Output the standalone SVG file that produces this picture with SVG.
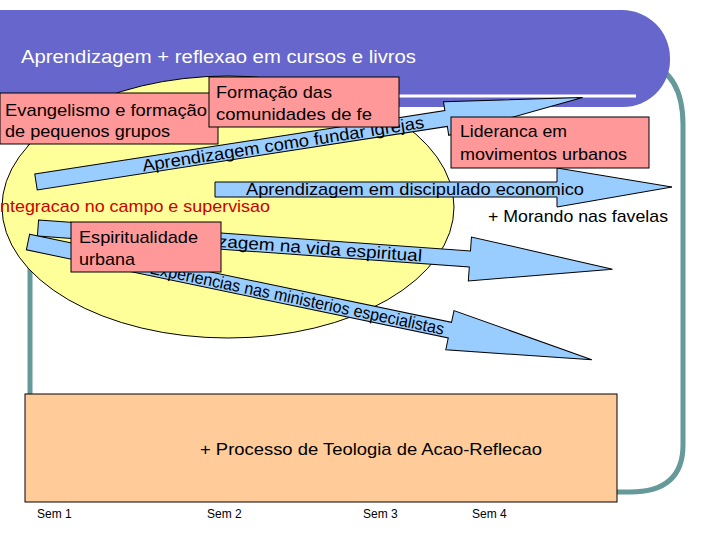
<svg xmlns="http://www.w3.org/2000/svg" width="720" height="540" viewBox="0 0 720 540">
<style>
text{font-family:"Liberation Sans",Arial,sans-serif;}
.box{fill:#ff9999;stroke:#000;stroke-width:1}
.arr{fill:#99ccff;stroke:#000;stroke-width:1}
.bt{font-size:17px;fill:#000}
.at{font-size:17px;fill:#000}
.sem{font-size:12px;fill:#000}
</style>
<rect width="720" height="540" fill="#fff"/>
<g id="frame">
<path d="M30,110 V400 M645,62 Q683,72 683,125 V445 Q683,492 630,492 H610" fill="none" stroke="#669999" stroke-width="5"/>
<path d="M0,10 H622 A48,48 0 0 1 670,58 V60 A47,47 0 0 1 623,107 H0 Z" fill="#6666cc"/>
<line x1="200" y1="96" x2="636" y2="96" stroke="#fff" stroke-width="3"/>
<text x="21" y="63" font-size="18" fill="#fff" textLength="395" lengthAdjust="spacingAndGlyphs">Aprendizagem + reflexao em cursos e livros</text>
</g>
<g id="ellipse"><ellipse cx="228" cy="207" rx="226" ry="131" fill="#ffff99" stroke="#000" stroke-width="1"/></g>
<g id="connectors">
<g transform="translate(36,182) rotate(-8.8)">
<path class="arr" d="M0,-8 H415 V-17 L553,0 L415,17 V8 H0 Z"/>
<text class="at" x="250" y="6" text-anchor="middle" textLength="285" lengthAdjust="spacingAndGlyphs">Aprendizagem como fundar igrejas</text>
</g>
<g>
<path class="arr" d="M215,182 H557 V168 L672,187 L557,207 V197 H215 Z"/>
<text class="at" x="415" y="195" text-anchor="middle" textLength="338" lengthAdjust="spacingAndGlyphs">Aprendizagem em discipulado economico</text>
</g>
<g transform="translate(38,228) rotate(4.1)">
<path class="arr" d="M0,-8 H433 V-22 L576,0 L433,22 V8 H0 Z"/>
<text class="at" x="250" y="6" text-anchor="middle" textLength="270" lengthAdjust="spacingAndGlyphs">Aprendizagem na vida espiritual</text>
</g>
<g transform="translate(28,242) rotate(11.8)">
<path class="arr" d="M0,-8 H431 V-20 L576,0 L431,20 V8 H0 Z"/>
<text class="at" x="275" y="6" text-anchor="middle" textLength="300" lengthAdjust="spacingAndGlyphs">Experiencias nas ministerios especialistas</text>
</g>
</g>
<g id="n-evang"><rect class="box" x="0" y="93" width="218" height="51"/>
<text class="bt" x="5" y="116" textLength="202" lengthAdjust="spacingAndGlyphs">Evangelismo e formação</text>
<text class="bt" x="5" y="137" textLength="165" lengthAdjust="spacingAndGlyphs">de pequenos grupos</text></g>
<g id="n-form"><rect class="box" x="209" y="77" width="190" height="50"/>
<text class="bt" x="216" y="98" textLength="116" lengthAdjust="spacingAndGlyphs">Formação das</text>
<text class="bt" x="216" y="120" textLength="156" lengthAdjust="spacingAndGlyphs">comunidades de fe</text></g>
<g id="n-lid"><rect class="box" x="451" y="117" width="198" height="51"/>
<text class="bt" x="460" y="137" textLength="107" lengthAdjust="spacingAndGlyphs">Lideranca em</text>
<text class="bt" x="460" y="160" textLength="167" lengthAdjust="spacingAndGlyphs">movimentos urbanos</text></g>
<g id="n-esp"><rect class="box" x="71" y="222" width="150" height="50"/>
<text class="bt" x="79" y="243" textLength="119" lengthAdjust="spacingAndGlyphs">Espiritualidade</text>
<text class="bt" x="79" y="265" textLength="56" lengthAdjust="spacingAndGlyphs">urbana</text></g>
<text x="-5" y="212" font-size="17" fill="#cc0000" textLength="275" lengthAdjust="spacingAndGlyphs">Integracao no campo e supervisao</text>
<text x="488" y="222" font-size="17" fill="#000" textLength="180" lengthAdjust="spacingAndGlyphs">+ Morando nas favelas</text>
<g id="n-proc"><rect x="25" y="394" width="592" height="108" fill="#ffcc99" stroke="#000" stroke-width="1"/>
<text x="200" y="455" font-size="17" fill="#000" textLength="342" lengthAdjust="spacingAndGlyphs">+ Processo de Teologia de Acao-Reflecao</text></g>
<text class="sem" x="37" y="518">Sem 1</text>
<text class="sem" x="207" y="518">Sem 2</text>
<text class="sem" x="363" y="518">Sem 3</text>
<text class="sem" x="472" y="518">Sem 4</text>
</svg>
